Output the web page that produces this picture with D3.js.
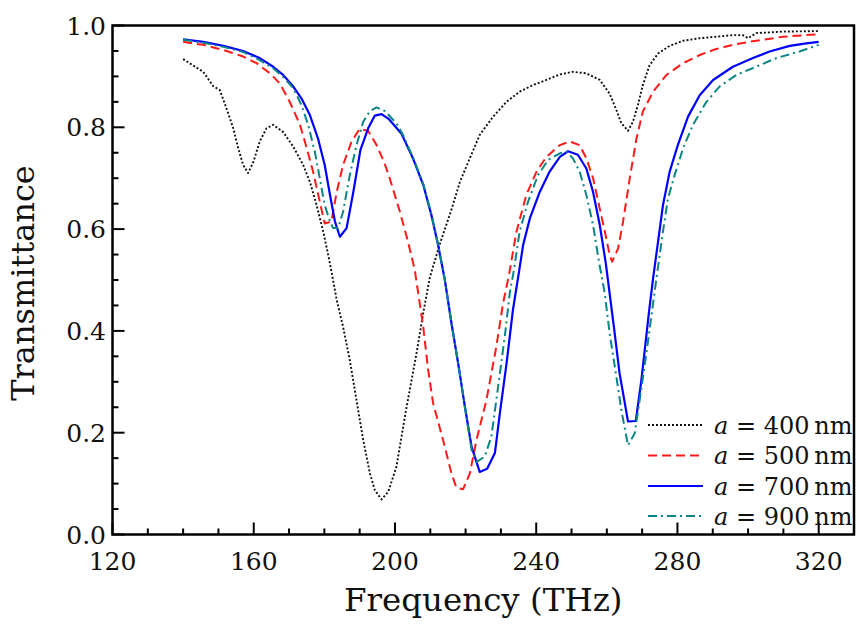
<!DOCTYPE html>
<html><head><meta charset="utf-8">
<script src="https://cdn.jsdelivr.net/npm/d3@7"></script>
<style>body{margin:0;background:#fff}svg{display:block}</style>
</head><body><svg id="c" width="863" height="625" font-family="'DejaVu Serif', serif"></svg>
<script>
const freq400=[140,145.7,148.5,150.4,152.3,154.2,155.6,157.0,158.4,159.9,161.7,163.6,165.5,168.3,171.2,174.0,175.9,177.8,179.7,181.4,183.5,185.3,187.2,189.1,191.0,192.9,194.3,196.2,198.1,200.4,203.3,206.1,208.0,209.9,212.9,215.8,218.4,221.2,224.0,227.8,231.6,235.3,239.1,242.9,246.7,250.4,254.2,258.0,260.8,262.7,264.1,266.0,267.4,268.8,270.2,272.1,274.5,277.8,281.6,286.3,291.0,295.7,298.5,300.0,302.3,309.9,320];
const trans400=[0.934,0.909,0.881,0.873,0.837,0.798,0.759,0.726,0.710,0.732,0.772,0.798,0.805,0.791,0.762,0.726,0.693,0.647,0.595,0.539,0.461,0.408,0.343,0.264,0.186,0.120,0.087,0.069,0.084,0.133,0.251,0.356,0.435,0.506,0.575,0.634,0.693,0.739,0.785,0.821,0.850,0.870,0.883,0.893,0.904,0.909,0.906,0.893,0.866,0.834,0.808,0.793,0.811,0.844,0.883,0.922,0.945,0.960,0.970,0.975,0.978,0.981,0.981,0.975,0.985,0.988,0.989];
const freq500=[140,145.7,151.4,157.0,160.8,164.6,167.4,170.2,173.1,175.0,176.8,178.7,180.1,182.0,183.5,185.3,187.7,190.0,192.4,194.8,197.0,198.5,201.4,203.7,205.6,208.0,209.4,210.8,213.6,216.0,217.4,219.3,221.2,223.1,225.9,228.7,230.6,232.3,234.4,237.2,240.1,242.9,246.7,249.5,252.3,254.2,256.1,258.0,259.6,260.8,261.5,263.2,264.6,266.5,268.4,270.2,273.1,276.9,281.6,286.3,291.0,295.7,300.4,305.2,309.9,320];
const trans500=[0.968,0.962,0.952,0.939,0.926,0.906,0.886,0.850,0.805,0.759,0.713,0.654,0.611,0.615,0.673,0.726,0.772,0.797,0.793,0.765,0.730,0.700,0.634,0.575,0.520,0.408,0.323,0.258,0.186,0.120,0.092,0.089,0.120,0.186,0.264,0.369,0.454,0.510,0.595,0.667,0.713,0.742,0.765,0.772,0.765,0.739,0.700,0.640,0.590,0.549,0.536,0.562,0.615,0.700,0.778,0.831,0.870,0.903,0.926,0.942,0.954,0.962,0.968,0.973,0.978,0.983];
const freq700=[140,145.7,151.4,157.0,161.7,165.5,168.3,171.2,173.5,175.9,178.2,180.1,181.6,183.0,184.4,186.3,188.2,190.2,192.4,194.3,196.2,198.3,201.8,205.1,208.0,210.3,212.2,214.1,216.0,217.9,219.8,221.7,224.0,226.1,228.3,229.7,231.6,233.4,235.1,236.3,238.2,241.0,243.8,246.7,249.0,251.8,254.2,256.1,258.0,259.7,262.0,263.6,266.0,268.2,269.8,271.9,273.1,274.5,275.9,277.8,280.1,283.0,286.3,290.1,295.7,301.4,306.1,311.8,316.5,320];
const trans700=[0.973,0.968,0.960,0.950,0.936,0.919,0.903,0.880,0.857,0.824,0.778,0.726,0.667,0.615,0.585,0.602,0.673,0.755,0.798,0.823,0.826,0.816,0.788,0.739,0.687,0.628,0.569,0.501,0.415,0.336,0.251,0.172,0.123,0.129,0.160,0.238,0.336,0.441,0.515,0.569,0.621,0.673,0.713,0.742,0.753,0.746,0.719,0.673,0.608,0.533,0.408,0.317,0.222,0.223,0.304,0.435,0.503,0.575,0.647,0.713,0.765,0.821,0.863,0.893,0.919,0.936,0.949,0.960,0.965,0.968];
const freq900=[140,145.7,151.4,157.0,161.7,165.5,168.3,171.2,173.5,175.4,177.3,178.7,180.1,181.6,182.5,183.9,185.3,187.2,189.1,191.0,192.9,194.8,197.1,200.4,202.3,205.1,208.0,210.3,212.2,214.1,216.0,217.9,219.8,221.7,223.2,225.4,227.3,229.2,231.1,232.5,233.7,235.3,237.7,240.5,243.4,246.7,248.6,250.4,252.3,254.2,256.1,257.8,259.4,260.8,262.7,264.1,266.0,267.9,269.3,271.2,274.3,275.9,277.3,279.2,281.6,284.4,288.2,291.9,296.7,302.3,308.0,314.6,320];
const trans900=[0.972,0.966,0.958,0.948,0.932,0.916,0.899,0.877,0.844,0.805,0.752,0.700,0.647,0.615,0.602,0.602,0.634,0.706,0.765,0.811,0.832,0.839,0.832,0.808,0.785,0.741,0.689,0.630,0.570,0.501,0.415,0.336,0.251,0.166,0.143,0.153,0.192,0.290,0.389,0.474,0.520,0.595,0.654,0.706,0.736,0.749,0.752,0.739,0.713,0.667,0.608,0.535,0.474,0.395,0.310,0.245,0.175,0.199,0.264,0.356,0.516,0.595,0.660,0.706,0.759,0.805,0.850,0.880,0.903,0.919,0.936,0.949,0.962];
const seriesLabels=["400","500","700","900"];
const xTickLabels=[120,160,200,240,280,320];
const yTickLabels=[0.0,0.2,0.4,0.6,0.8,1.0];

const svg=d3.select("#c");
const L=112.5,R=854,T=25.5,B=534.5;
const x=d3.scaleLinear().domain([120,330]).range([L,R]);
const y=d3.scaleLinear().domain([0,1]).range([B,T]);

const styles=[
 {color:"#111",dash:"2,2",w:1.9},
 {color:"#ff1a1a",dash:"9,5",w:2},
 {color:"#0000ff",dash:null,w:2.2},
 {color:"#0b8585",dash:"9,4,2,4",w:2}
];
const data=[[freq400,trans400],[freq500,trans500],[freq700,trans700],[freq900,trans900]];
const line=d3.line().x(d=>x(d[0])).y(d=>y(d[1]));
data.forEach((s,i)=>{
  const pts=s[0].map((f,j)=>[f,s[1][j]]);
  svg.append("path").attr("d",line(pts)).attr("fill","none")
    .attr("stroke",styles[i].color).attr("stroke-width",styles[i].w)
    .attr("stroke-dasharray",styles[i].dash).attr("stroke-linejoin","round");
});

// axes
const gx=svg.append("g");
d3.range(120,331,10).forEach(v=>{
  const major=v%40===0;
  gx.append("line").attr("x1",x(v)).attr("x2",x(v)).attr("y1",B).attr("y2",B-(major?12:6)).attr("stroke","#000").attr("stroke-width",2);
});
xTickLabels.forEach(v=>{
  gx.append("text").attr("x",x(v)).attr("y",570).attr("text-anchor","middle").attr("font-size",25).attr("fill","#111").text(v);
});
const gy=svg.append("g");
d3.range(0,1.0001,0.05).forEach(v=>{
  const major=Math.abs(v*5-Math.round(v*5))<1e-6;
  gy.append("line").attr("x1",L).attr("x2",L+(major?12:6)).attr("y1",y(v)).attr("y2",y(v)).attr("stroke","#000").attr("stroke-width",2);
});
yTickLabels.forEach(v=>{
  gy.append("text").attr("x",106).attr("y",y(v)).attr("dy","0.36em").attr("text-anchor","end").attr("font-size",25).attr("fill","#111").text(d3.format(".1f")(v));
});
svg.append("rect").attr("x",L).attr("y",T).attr("width",R-L).attr("height",B-T).attr("fill","none").attr("stroke","#000").attr("stroke-width",2.5);

svg.append("text").attr("x",(L+R)/2).attr("y",611).attr("text-anchor","middle").attr("font-size",32.5).attr("fill","#111").text("Frequency (THz)");
svg.append("text").attr("transform","translate(34,"+((T+B)/2+3)+") rotate(-90)").attr("text-anchor","middle").attr("font-size",32).attr("fill","#111").text("Transmittance");

// legend
const lg=svg.append("g");
const rowsY=[425,455.5,486,516];
seriesLabels.forEach((lab,i)=>{
  lg.append("line").attr("x1",648).attr("x2",703).attr("y1",rowsY[i]).attr("y2",rowsY[i])
    .attr("stroke",styles[i].color).attr("stroke-width",styles[i].w).attr("stroke-dasharray",styles[i].dash);
  const t=lg.append("text").attr("x",714).attr("y",rowsY[i]).attr("dy","0.36em").attr("font-size",24).attr("fill","#111");
  t.append("tspan").attr("font-style","italic").text("a");
  t.append("tspan").text(" = "+lab+"\u2009nm");
});
</script></body></html>
